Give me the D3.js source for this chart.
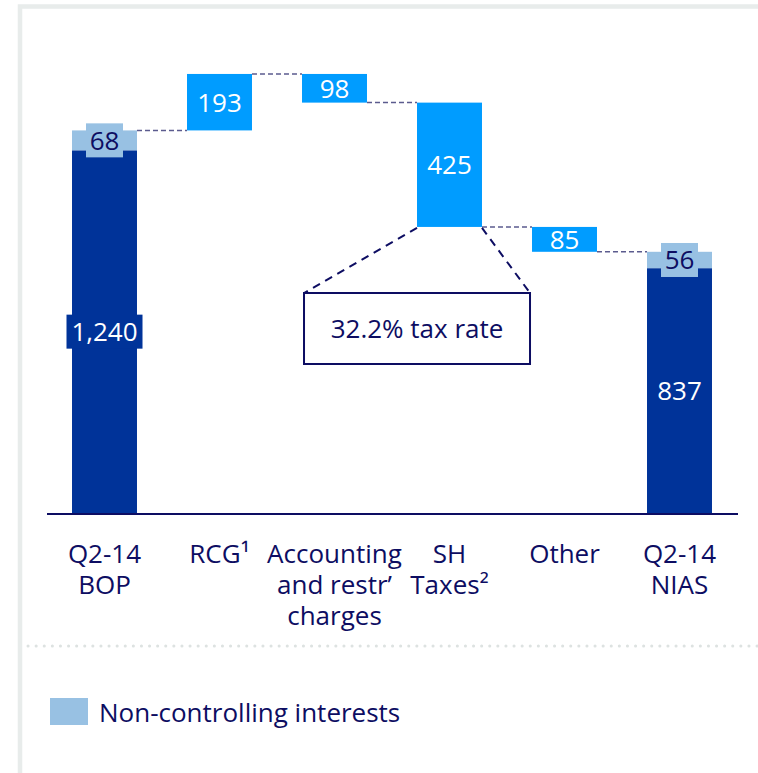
<!DOCTYPE html>
<html>
<head>
<meta charset="utf-8">
<script src="https://cdn.jsdelivr.net/npm/d3@7"></script>
<style>
  body { margin: 0; background: #fff; }
  svg { display: block; }
</style>
</head>
<body>
<script>
// chart data
var categories = ['Q2-14 BOP', 'RCG', 'Accounting and restr’ charges', 'SH Taxes', 'Other', 'Q2-14 NIAS'];
var labelLines = [['Q2-14', 'BOP'], ['RCG¹'], ['Accounting', 'and restr’', 'charges'], ['SH', 'Taxes²'], ['Other'], ['Q2-14', 'NIAS']];
var baseValues = [1240, null, null, null, null, 837];   // net profit (dark part of totals)
var nciValues = [68, null, null, null, null, 56];       // non-controlling interests
var deltas = [null, 193, -98, -425, -85, null];         // bridge steps
var taxNote = '32.2% tax rate';
var legendLabel = 'Non-controlling interests';

var width = 758, height = 773;
var colors = { base: '#003399', nci: '#98c1e3', step: '#009cff', text: '#0d0d62', connector: '#5b5b8e' };
var font = '"Open Sans", "Noto Sans", sans-serif';
var fontSize = 26;

var svg = d3.select('body')
  .append('svg')
  .attr('width', width)
  .attr('height', height)
  .style('font-family', font);

// grey frame and dotted separator
svg.append('rect')
  .attr('x', 20).attr('y', 6.5)
  .attr('width', 900).attr('height', 900)
  .attr('fill', 'none')
  .attr('stroke', '#e8eceb')
  .attr('stroke-width', 4.5);

svg.append('line')
  .attr('x1', 28).attr('x2', width)
  .attr('y1', 646).attr('y2', 646)
  .attr('stroke', '#dde2e1')
  .attr('stroke-width', 3)
  .attr('stroke-linecap', 'round')
  .attr('stroke-dasharray', '0.1,8');

// scales
var x = d3.scaleBand()
  .domain(categories)
  .range([47, 737])
  .paddingInner(0.435)
  .paddingOuter(0.2175);

var y = d3.scaleLinear()
  .domain([0, 1600])
  .range([513, 45]);

// build the waterfall segments
var bars = [];
var running = 0;
categories.forEach(function (c, i) {
  if (deltas[i] === null) {
    bars.push({ cat: c, kind: 'base', y0: 0, y1: baseValues[i], value: baseValues[i] });
    bars.push({ cat: c, kind: 'nci', y0: baseValues[i], y1: baseValues[i] + nciValues[i], value: nciValues[i] });
    running = baseValues[i] + nciValues[i];
  } else {
    var start = running;
    running = running + deltas[i];
    bars.push({ cat: c, kind: 'step', y0: Math.min(start, running), y1: Math.max(start, running),
                value: Math.abs(deltas[i]) });
  }
});

// connectors: from end level of one column to the next column
var levels = [];
running = 0;
categories.forEach(function (c, i) {
  running = deltas[i] === null ? baseValues[i] + nciValues[i] : running + deltas[i];
  levels.push(running);
});
var connectors = levels.slice(0, -1).map(function (v, i) {
  return { from: categories[i], to: categories[i + 1], value: v };
});

svg.append('g')
  .selectAll('line')
  .data(connectors)
  .join('line')
  .attr('x1', function (d) { return x(d.from) + x.bandwidth(); })
  .attr('x2', function (d) { return x(d.to); })
  .attr('y1', function (d) { return y(d.value); })
  .attr('y2', function (d) { return y(d.value); })
  .attr('stroke', colors.connector)
  .attr('stroke-width', 1.5)
  .attr('stroke-dasharray', '5,3');

svg.append('g')
  .selectAll('rect')
  .data(bars)
  .join('rect')
  .attr('x', function (d) { return x(d.cat); })
  .attr('width', x.bandwidth())
  .attr('y', function (d) { return y(d.y1); })
  .attr('height', function (d) { return y(d.y0) - y(d.y1); })
  .attr('fill', function (d) { return colors[d.kind]; });

// baseline
svg.append('line')
  .attr('x1', 47).attr('x2', 738)
  .attr('y1', y(0) + 1).attr('y2', y(0) + 1)
  .attr('stroke', colors.text)
  .attr('stroke-width', 2);

// value labels (with backing boxes like the original)
var valueLabels = svg.append('g')
  .selectAll('g')
  .data(bars)
  .join('g')
  .attr('transform', function (d) {
    return 'translate(' + (x(d.cat) + x.bandwidth() / 2) + ',' + ((y(d.y0) + y(d.y1)) / 2) + ')';
  });

valueLabels.filter(function (d) { return d.kind === 'nci' || d.value > 1000; })
  .append('rect')
  .attr('x', function (d) { return d.kind === 'nci' ? -18.5 : -38; })
  .attr('width', function (d) { return d.kind === 'nci' ? 37 : 76; })
  .attr('y', -17)
  .attr('height', 34)
  .attr('fill', function (d) { return colors[d.kind]; });

valueLabels.append('text')
  .attr('text-anchor', 'middle')
  .attr('dy', '0.36em')
  .attr('font-size', fontSize)
  .attr('fill', function (d) { return d.kind === 'nci' ? colors.text : '#fff'; })
  .text(function (d) { return d3.format(',')(d.value); });

// category labels
var catLabels = svg.append('g')
  .selectAll('text')
  .data(categories)
  .join('text')
  .attr('x', function (d) { return x(d) + x.bandwidth() / 2; })
  .attr('y', 563)
  .attr('text-anchor', 'middle')
  .attr('font-size', fontSize)
  .attr('fill', colors.text);

catLabels.selectAll('tspan')
  .data(function (d, i) { return labelLines[i]; })
  .join('tspan')
  .attr('x', function () { return this.parentNode.getAttribute('x'); })
  .attr('dy', function (d, i) { return i === 0 ? 0 : 31; })
  .text(function (d) { return d; });

// tax-rate callout under the SH Taxes step
var taxBar = bars.filter(function (d) { return d.cat === 'SH Taxes'; })[0];
var calloutX = x('SH Taxes');
var box = { left: calloutX - 113, right: calloutX + 113, top: 293, bottom: 364 };
var callout = svg.append('g');
[[x('SH Taxes'), box.left], [x('SH Taxes') + x.bandwidth(), box.right]].forEach(function (p) {
  callout.append('line')
    .attr('x1', p[0]).attr('y1', y(taxBar.y0) + 1)
    .attr('x2', p[1]).attr('y2', box.top)
    .attr('stroke', colors.text)
    .attr('stroke-width', 2)
    .attr('stroke-dasharray', '8,6');
});
callout.append('rect')
  .attr('x', box.left).attr('y', box.top)
  .attr('width', box.right - box.left).attr('height', box.bottom - box.top)
  .attr('fill', '#fff')
  .attr('stroke', colors.text)
  .attr('stroke-width', 2);
callout.append('text')
  .attr('x', (box.left + box.right) / 2)
  .attr('y', (box.top + box.bottom) / 2)
  .attr('dy', '0.36em')
  .attr('text-anchor', 'middle')
  .attr('font-size', fontSize)
  .attr('fill', colors.text)
  .text(taxNote);

// legend
var legend = svg.append('g').attr('transform', 'translate(50,698)');
legend.append('rect').attr('width', 38).attr('height', 27).attr('fill', colors.nci);
legend.append('text')
  .attr('x', 49).attr('y', 24)
  .attr('font-size', fontSize)
  .attr('fill', colors.text)
  .text(legendLabel);
</script>
</body>
</html>
